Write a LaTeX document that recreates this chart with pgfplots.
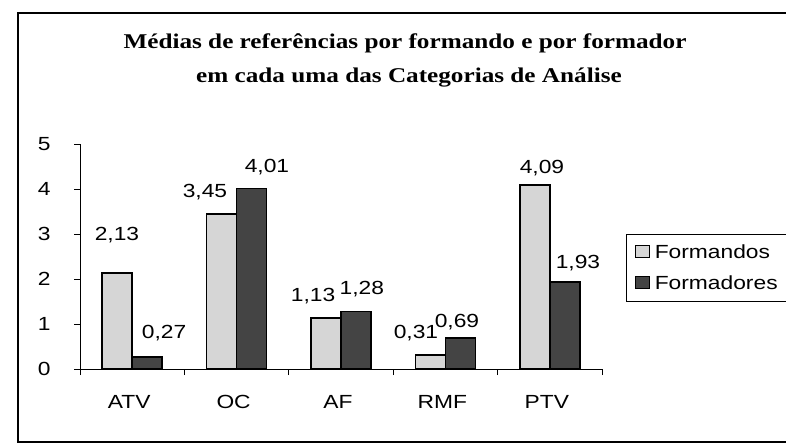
\documentclass[border=0pt]{standalone}
\usepackage{pgfplots}
\usepackage{pgfplotstable}
\pgfplotsset{compat=1.18}
\usepackage{fontspec}
\setmainfont{Liberation Sans}[FakeStretch=1.2]
\newfontfamily\titlefont{Liberation Serif}[FakeStretch=1.2]
\definecolor{lightbar}{HTML}{D6D6D6}
\definecolor{darkbar}{HTML}{444444}
\pgfplotstableread{
x y
0 2.13
1 3.45
2 1.13
3 0.31
4 4.09
}\formandos
\pgfplotstableread{
x y
0 0.27
1 4.01
2 1.28
3 0.69
4 1.93
}\formadores
\pgfplotstableread{
x y label
-0.146 2.98 2,13
0.305 0.80 0,27
0.697 3.93 3,45
1.291 4.49 4,01
1.732 1.62 1,13
2.200 1.78 1,28
2.718 0.80 0,31
3.111 1.04 0,69
3.925 4.47 4,09
4.270 2.36 1,93
}\labels
\begin{document}
\begin{tikzpicture}
\useasboundingbox (0pt,0pt) rectangle (786pt,445pt);
\draw[line width=1.2pt] (786pt,432pt) -- (18pt,432pt) -- (18pt,3pt) -- (786pt,3pt);
\node[font=\titlefont\bfseries\fontsize{21}{25}\selectfont, anchor=base] at (405pt,396pt) {Médias de referências por formando e por formador};
\node[font=\titlefont\bfseries\fontsize{21}{25}\selectfont, anchor=base] at (409pt,362pt) {em cada uma das Categorias de Análise};
\begin{axis}[
  at={(80pt,76pt)}, anchor=south west,
  width=522pt, height=225pt, scale only axis,
  ybar, bar width=30pt,
  xmin=-0.5, xmax=4.5, ymin=0, ymax=5,
  axis x line*=bottom, axis y line*=left,
  axis line style={line width=1pt, -},
  tick style={black, line width=1pt},
  tick align=outside, major tick length=6pt,
  ytick={0,1,2,3,4,5},
  xtick={-0.5,0.5,1.5,2.5,3.5,4.5}, xticklabels={},
  extra x ticks={0,1,2,3,4},
  extra x tick labels={ATV,OC,AF,RMF,PTV},
  extra x tick style={major tick length=0pt},
  ticklabel style={font=\fontsize{19}{23}\selectfont},
  /pgf/number format/assume math mode=true,
  xticklabel style={yshift=-23pt, xshift=-3pt},
  yticklabel style={xshift=-20pt},
  clip=false,
  legend style={at={(1.046,0.60)}, anchor=north west, draw=black, line width=1pt,
    font=\fontsize{19}{23}\selectfont, row sep=12pt, inner xsep=8pt, inner ysep=8pt,
    cells={anchor=west}},
  legend image code/.code={\draw[#1, line width=1pt] (0pt,-5pt) rectangle (14pt,7pt); \path (17pt,0pt);},
]
\addplot[bar shift=-15pt, fill=lightbar, draw=black, line width=1.5pt] table[x=x,y=y] {\formandos};
\addlegendentry{Formandos}
\addplot[bar shift=15pt, fill=darkbar, draw=black, line width=1.5pt] table[x=x,y=y] {\formadores};
\addlegendentry{Formadores}
\addplot[draw=none, fill=none, bar shift=0pt, forget plot, nodes near coords, point meta=explicit symbolic,
  nodes near coords align=center,
  every node near coord/.append style={anchor=center, font=\fontsize{19}{23}\selectfont, inner sep=0pt}]
  table[x=x,y=y,meta=label] {\labels};
\end{axis}
\end{tikzpicture}
\end{document}
